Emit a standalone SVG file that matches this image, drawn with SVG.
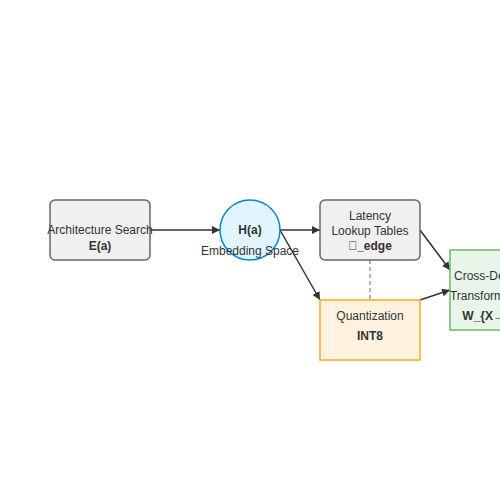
<svg xmlns="http://www.w3.org/2000/svg" width="500" height="500" viewBox="0 0 500 500">
<defs>
<marker id="arr" viewBox="0 0 10 10" refX="10" refY="5" markerWidth="8" markerHeight="8" orient="auto-start-reverse" markerUnits="userSpaceOnUse">
<path d="M0,0 L10,5 L0,10 z" fill="#333"/>
</marker>
<style>
text{font-family:"Liberation Sans",Arial,sans-serif;font-size:12px;fill:#333;text-anchor:middle}
.b{font-weight:bold}
.box{stroke-width:1.5}
.edge{stroke:#333;stroke-width:1.5;fill:none;marker-end:url(#arr)}
</style>
</defs>
<rect width="500" height="500" fill="#fff"/>
<g id="connectors">
<line class="edge" x1="150" y1="230" x2="220" y2="230"/>
<line class="edge" x1="280" y1="230" x2="320" y2="230"/>
<line class="edge" x1="280" y1="230" x2="320" y2="300"/>
<line class="edge" x1="420" y1="230" x2="450" y2="270"/>
<line class="edge" x1="420" y1="300" x2="450" y2="290"/>
<line x1="370" y1="260" x2="370" y2="300" stroke="#999" stroke-width="1.5" stroke-dasharray="4,3"/>
</g>
<g id="arch">
<rect class="box" x="50" y="200" width="100" height="60" rx="5" fill="#f0f0f0" stroke="#666"/>
<text x="100" y="234">Architecture Search</text>
<text class="b" x="100" y="250">E(a)</text>
</g>
<g id="embed">
<circle class="box" cx="250" cy="230" r="30" fill="#e1f5fe" stroke="#0288d1"/>
<text class="b" x="250" y="234">H(a)</text>
<text x="250" y="255">Embedding Space</text>
</g>
<g id="latency">
<rect class="box" x="320" y="200" width="100" height="60" rx="5" fill="#f0f0f0" stroke="#666"/>
<text x="370" y="220">Latency</text>
<text x="370" y="235">Lookup Tables</text>
<text class="b" x="370" y="250">&#xE000;_edge</text>
</g>
<g id="quant">
<rect class="box" x="320" y="300" width="100" height="60" fill="#fff3e0" stroke="#ffa726"/>
<text x="370" y="320">Quantization</text>
<text class="b" x="370" y="340">INT8</text>
</g>
<g id="transfer">
<rect class="box" x="450" y="250" width="100" height="80" fill="#e8f5e9" stroke="#66bb6a"/>
<text x="490" y="280">Cross-Device</text>
<text x="490" y="300">Transformation</text>
<text class="b" x="490" y="320">W_{X→Y}</text>
</g>
</svg>
